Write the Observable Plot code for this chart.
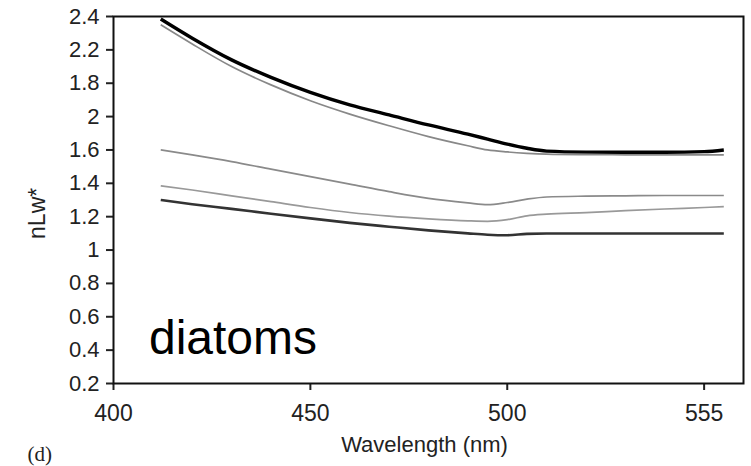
<!DOCTYPE html>
<html>
<head>
<meta charset="utf-8">
<script src="https://cdn.jsdelivr.net/npm/d3@7"></script>
<script src="https://cdn.jsdelivr.net/npm/@observablehq/plot@0.6"></script>
<style>
  html, body { margin: 0; padding: 0; background: #fff; }
  #chart svg { display: block; }
</style>
</head>
<body>
<div id="chart"></div>
<script>
// Wavelengths (nm)
const wavelengths = [412, 420, 430, 440, 450, 460, 470, 480, 490, 495, 500, 505, 510, 520, 530, 540, 550, 555];
// Series values (nLw*)
const series1 = [2.385, 2.27, 2.14, 2.035, 1.945, 1.87, 1.81, 1.75, 1.695, 1.665, 1.635, 1.61, 1.593, 1.587, 1.586, 1.586, 1.59, 1.60];
const series2 = [2.35, 2.235, 2.10, 1.99, 1.895, 1.815, 1.745, 1.68, 1.625, 1.60, 1.588, 1.58, 1.575, 1.572, 1.571, 1.570, 1.570, 1.570];
const series3 = [1.60, 1.57, 1.53, 1.485, 1.44, 1.395, 1.35, 1.31, 1.283, 1.272, 1.285, 1.305, 1.318, 1.323, 1.325, 1.327, 1.327, 1.327];
const series4 = [1.385, 1.36, 1.325, 1.29, 1.255, 1.225, 1.203, 1.187, 1.175, 1.172, 1.182, 1.205, 1.215, 1.224, 1.236, 1.246, 1.255, 1.26];
const series5 = [1.30, 1.275, 1.247, 1.218, 1.19, 1.163, 1.14, 1.118, 1.10, 1.092, 1.089, 1.097, 1.099, 1.099, 1.099, 1.099, 1.099, 1.099];
const seriesNames = ["s1", "s2", "s3", "s4", "s5"];
const seriesValues = [series1, series2, series3, series4, series5];

// Tick positions and labels (as printed on the original figure)
const xTickValues = [400, 450, 500, 550];
const xTickLabels = ["400", "450", "500", "555"];
const yTickValues = [0.2, 0.4, 0.6, 0.8, 1.0, 1.2, 1.4, 1.6, 1.8, 2.0, 2.2, 2.4];
const yTickLabels = ["0.2", "0.4", "0.6", "0.8", "1", "1.2", "1.4", "1.6", "2", "1.8", "2.2", "2.4"];

const styles = {
  s1: {stroke: "#000000", strokeWidth: 3.4},
  s2: {stroke: "#888888", strokeWidth: 1.7},
  s3: {stroke: "#8a8a8a", strokeWidth: 1.7},
  s4: {stroke: "#999999", strokeWidth: 1.7},
  s5: {stroke: "#333333", strokeWidth: 2.6}
};

const rows = [];
seriesNames.forEach((name, i) => {
  wavelengths.forEach((w, j) => rows.push({series: name, wl: w, v: seriesValues[i][j]}));
});

const font = "'Liberation Sans', Arial, Helvetica, sans-serif";

const lineMarks = seriesNames.map(name =>
  Plot.line(rows.filter(d => d.series === name), {
    x: "wl", y: "v", curve: "monotone-x",
    stroke: styles[name].stroke, strokeWidth: styles[name].strokeWidth,
    strokeLinejoin: "round", strokeLinecap: "butt"
  })
);

const chart = Plot.plot({
  width: 751,
  height: 466,
  marginLeft: 113,
  marginRight: 8,
  marginTop: 16,
  marginBottom: 83,
  style: {fontFamily: font, background: "#fff"},
  x: {domain: [400, 560]},
  y: {domain: [0.2, 2.4]},
  marks: [
    Plot.axisY({
      ticks: yTickValues,
      tickFormat: d => yTickLabels[yTickValues.findIndex(t => Math.abs(t - d) < 1e-9)],
      tickSize: 7, tickPadding: 7, strokeWidth: 2, label: null,
      fontSize: 22, fill: "#222", stroke: "#222"
    }),
    Plot.axisX({
      ticks: xTickValues,
      tickFormat: d => xTickLabels[xTickValues.indexOf(d)],
      tickSize: 7, tickPadding: 14, strokeWidth: 2, label: null,
      fontSize: 23, fill: "#222", stroke: "#222"
    }),
    Plot.frame({stroke: "#111", strokeWidth: 2}),
    ...lineMarks,
    Plot.text(["diatoms"], {
      x: 409, y: 0.47, text: d => d, textAnchor: "start",
      fontSize: 48, fill: "#000", fontFamily: font
    }),
    Plot.text(["Wavelength (nm)"], {
      frameAnchor: "bottom", dx: -4, dy: 68, text: d => d,
      fontSize: 22, fill: "#222", fontFamily: font
    }),
    Plot.text(["nLw*"], {
      frameAnchor: "left", y: 1.22, dx: -76, rotate: -90, textAnchor: "middle", text: d => d,
      fontSize: 23, fill: "#222", fontFamily: font
    }),
    Plot.text(["(d)"], {
      frameAnchor: "bottom-left", dx: -86, dy: 77, text: d => d,
      fontSize: 21, fill: "#222", fontFamily: "'Liberation Serif', 'Times New Roman', serif"
    })
  ]
});

document.getElementById("chart").appendChild(chart);
</script>
</body>
</html>
